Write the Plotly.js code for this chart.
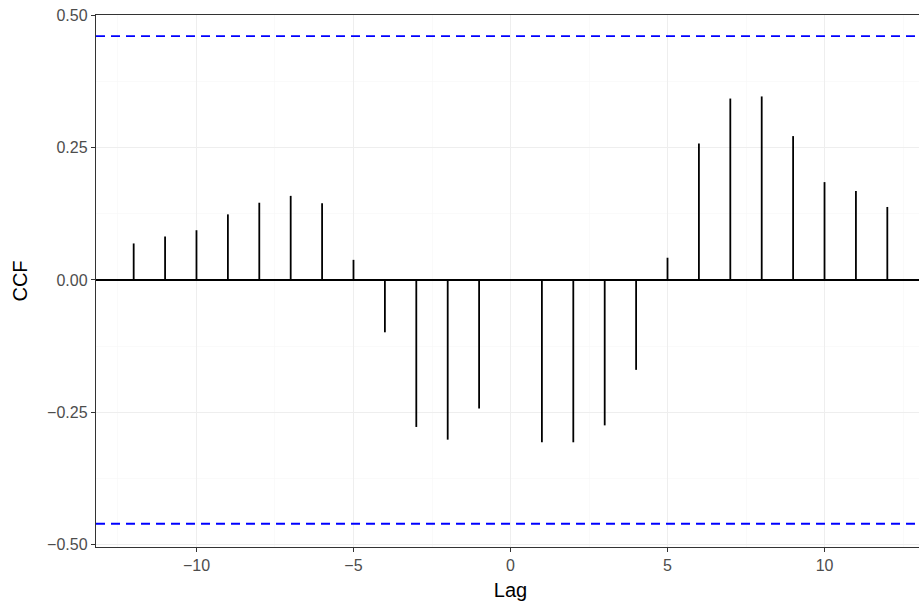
<!DOCTYPE html>
<html>
<head>
<meta charset="utf-8">
<script src="https://cdn.plot.ly/plotly-3.0.1.min.js"></script>
<style>
html, body { margin: 0; padding: 0; overflow: hidden; background: #fff; }
#chart { width: 925px; height: 607px; }
</style>
</head>
<body>
<div id="chart"></div>
<script>
const lags = [-12,-11,-10,-9,-8,-7,-6,-5,-4,-3,-2,-1,0,1,2,3,4,5,6,7,8,9,10,11,12];
const ccfValues = [0.069,0.082,0.094,0.124,0.146,0.159,0.145,0.038,-0.099,-0.278,-0.302,-0.243,0.0,-0.307,-0.307,-0.275,-0.170,0.042,0.258,0.343,0.347,0.272,0.185,0.168,0.138];
const confBound = 0.461;
const xTicks = [-10,-5,0,5,10];
const yTicks = [-0.5,-0.25,0,0.25,0.5];

const segX = [], segY = [];
lags.forEach((l, i) => { segX.push(l, l, null); segY.push(0, ccfValues[i], null); });

const traces = [{
  type: 'scatter', mode: 'lines', x: segX, y: segY,
  line: {color: '#000000', width: 1.8}, hoverinfo: 'skip', showlegend: false
}];

const layout = {
  width: 925, height: 607,
  margin: {l: 96, r: 0, t: 15, b: 60},
  paper_bgcolor: '#ffffff', plot_bgcolor: '#ffffff',
  font: {family: 'Liberation Sans, Arial, sans-serif'},
  showlegend: false,
  xaxis: {
    range: [-13.2, 13.2], tickvals: xTicks, ticks: 'outside', ticklen: 4, tickwidth: 1, tickcolor: '#333333',
    showline: true, linecolor: '#333333', linewidth: 1.2, mirror: true,
    showgrid: true, gridcolor: '#EEEEEE', gridwidth: 1,
    minor: {tickvals: [-12.5,-7.5,-2.5,2.5,7.5,12.5], showgrid: true, gridcolor: '#F6F6F6', gridwidth: 0.6},
    zeroline: false,
    tickfont: {size: 16, color: '#4D4D4D'},
    title: {text: 'Lag', font: {size: 20, color: '#000000'}, standoff: 9}
  },
  yaxis: {
    range: [-0.505, 0.501], tickvals: yTicks, tickformat: '.2f', ticks: 'outside', ticklen: 4, tickwidth: 1, tickcolor: '#333333',
    showline: true, linecolor: '#333333', linewidth: 1.2, mirror: true,
    showgrid: true, gridcolor: '#EEEEEE', gridwidth: 1,
    minor: {tickvals: [-0.375,-0.125,0.125,0.375], showgrid: true, gridcolor: '#F6F6F6', gridwidth: 0.6},
    zeroline: true, zerolinecolor: '#000000', zerolinewidth: 1.8,
    tickfont: {size: 16, color: '#4D4D4D'},
    title: {text: 'CCF', font: {size: 20, color: '#000000'}, standoff: 14}
  },
  shapes: [confBound, -confBound].map(v => ({
    type: 'line', xref: 'paper', yref: 'y', x0: 0, x1: 1, y0: v, y1: v,
    line: {color: '#0000FF', width: 1.8, dash: '9px,6px'}
  }))
};

Plotly.newPlot('chart', traces, layout, {displayModeBar: false, staticPlot: true});
</script>
</body>
</html>
